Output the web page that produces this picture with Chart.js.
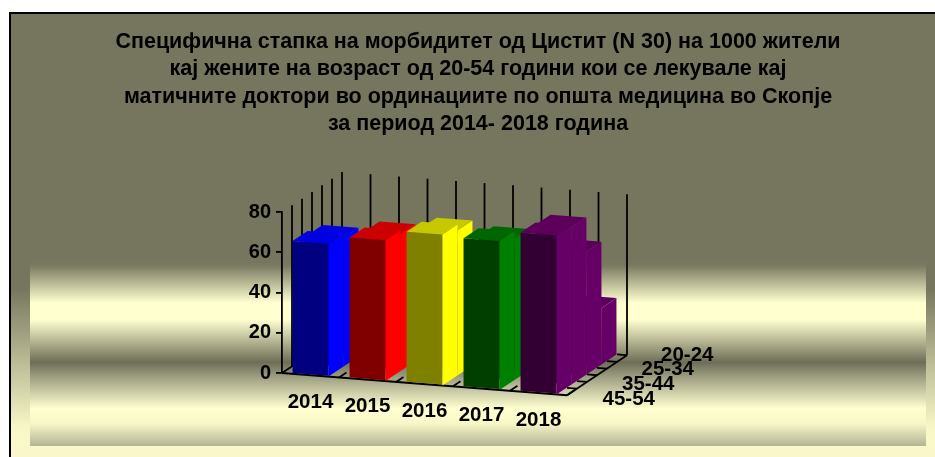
<!DOCTYPE html>
<html>
<head>
<meta charset="utf-8">
<script src="https://cdn.jsdelivr.net/npm/chart.js@4.4.1/dist/chart.umd.min.js"></script>
<style>
  html, body { margin: 0; padding: 0; background: #fff; }
  #cystitisChart { display: block; }
</style>
</head>
<body>
<canvas id="cystitisChart" width="935" height="457"></canvas>
<script>
// Data
const titleLines = [
    'Специфична стапка на морбидитет од Цистит (N 30) на 1000 жители',
    'кај жените на возраст од 20-54 години кои се лекувале кај',
    'матичните доктори во ординациите по општа медицина во Скопје',
    'за период 2014- 2018 година'
];
const years = ['2014', '2015', '2016', '2017', '2018'];
// depth series, front to back
const ageGroups = ['45-54', '35-44', '25-34', '20-24'];
const age4554 = [66, 70, 75, 74, 79];
const age3544 = [64, 68, 72, 70, 78];
const age2534 = [55, 58, 60, 58, 61];
const age2024 = [20, 22, 22, 20, 28];
const yTicks = [0, 20, 40, 60, 80];

const frontColors = ['#000080', '#800000', '#808000', '#003f00', '#330033'];
const sideColors  = ['#0000ff', '#ff0000', '#ffff00', '#008000', '#660066'];
const topColors   = ['#0000e0', '#cc0000', '#c8c800', '#006600', '#5c005c'];

const OLIVE = '#76765e';
const CREAM = '#ffffd0';
const FONT = '"Liberation Sans", Arial, sans-serif';

// fake 3D: floor slope and one series of depth
const K = 0.078, DX = 15, DY = -10;
const DEPTH = ageGroups.length;

function proj(chart, x, y, d) {
    const left = chart.chartArea.left;
    return [x + d * DX, y + K * (x - left) + d * DY];
}

function poly(ctx, pts, color) {
    ctx.beginPath();
    ctx.moveTo(pts[0][0], pts[0][1]);
    for (let i = 1; i < pts.length; i++) ctx.lineTo(pts[i][0], pts[i][1]);
    ctx.closePath();
    ctx.fillStyle = color;
    ctx.fill();
}

function line(ctx, a, b) {
    ctx.beginPath();
    ctx.moveTo(a[0], a[1]);
    ctx.lineTo(b[0], b[1]);
    ctx.stroke();
}

function drawBox(chart, i, xL, xR, yTop, yBase, d, withFront) {
    const ctx = chart.ctx;
    const P = (x, y, dd) => proj(chart, x, y, dd);
    if (withFront) {
        poly(ctx, [P(xL, yTop, d), P(xR, yTop, d), P(xR, yBase, d), P(xL, yBase, d)], frontColors[i]);
    }
    poly(ctx, [P(xR, yTop, d), P(xR, yTop, d + 1), P(xR, yBase, d + 1), P(xR, yBase, d)], sideColors[i]);
    poly(ctx, [P(xL, yTop, d), P(xR, yTop, d), P(xR, yTop, d + 1), P(xL, yTop, d + 1)], topColors[i]);
}

const backdrop = {
    id: 'backdrop',
    beforeDraw(chart) {
        const ctx = chart.ctx;
        const W = chart.width, H = chart.height;
        ctx.save();
        ctx.fillStyle = '#ffffff';
        ctx.fillRect(0, 0, W, H);

        // frame fill
        let g = ctx.createLinearGradient(0, 12, 0, H);
        g.addColorStop(0, OLIVE);
        g.addColorStop(0.62, OLIVE);
        g.addColorStop(0.93, '#f6f6c6');
        g.addColorStop(1, '#fbfacc');
        ctx.fillStyle = g;
        ctx.fillRect(10, 13, W - 10, H - 13);

        // banded plot backdrop
        const top = 260, bot = 446;
        g = ctx.createLinearGradient(0, top, 0, bot);
        g.addColorStop(0, OLIVE);
        g.addColorStop(0.03, '#7a7a62');
        g.addColorStop(0.23, CREAM);
        g.addColorStop(0.32, CREAM);
        g.addColorStop(0.55, '#6e6e58');
        g.addColorStop(0.66, '#b0b090');
        g.addColorStop(0.80, CREAM);
        g.addColorStop(0.88, '#f6f6c6');
        g.addColorStop(1, '#b4b494');
        ctx.fillStyle = g;
        ctx.fillRect(30, top, 896, bot - top);

        ctx.fillStyle = '#faf8ca';
        ctx.fillRect(10, bot, W - 10, H - bot);

        ctx.strokeStyle = '#000';
        ctx.lineWidth = 2;
        ctx.strokeRect(10, 13, W + 20, H + 20);

        // title
        ctx.fillStyle = '#000';
        ctx.font = 'bold 21.5px ' + FONT;
        ctx.textAlign = 'center';
        ctx.textBaseline = 'middle';
        titleLines.forEach((t, k) => ctx.fillText(t, 478, 42 + k * 27.3));
        ctx.restore();
    },
    beforeDatasetsDraw(chart) {
        const ctx = chart.ctx;
        const x = chart.scales.x, y = chart.scales.y;
        const area = chart.chartArea;
        const P = (px, py, d) => proj(chart, px, py, d);
        const y0 = y.getPixelForValue(0);
        const yMax = y.getPixelForValue(yTicks[yTicks.length - 1]);

        ctx.save();
        ctx.strokeStyle = '#000';
        ctx.lineWidth = 1.8;
        // side wall verticals
        for (let s = 1; s <= 6; s++) {
            const d = DEPTH * s / 6;
            line(ctx, P(area.left, y0, d), P(area.left, yMax, d));
        }
        // back wall verticals
        const step = (area.right - area.left) / years.length;
        for (let s = 1; s <= years.length * 2; s++) {
            const px = area.left + s * step / 2;
            line(ctx, P(px, y0, DEPTH), P(px, yMax, DEPTH));
        }
        // floor edges
        line(ctx, P(area.left, y0, 0), P(area.left, y0, DEPTH));
        line(ctx, P(area.left, y0, 0), P(area.right, y0, 0));
        line(ctx, P(area.right, y0, 0), P(area.right, y0, DEPTH));
        for (let s = 1; s <= years.length; s++) {
            const px = area.left + s * step;
            line(ctx, P(px, y0, 0), P(px, y0, 0.5));
        }
        for (let s = 1; s <= 6; s++) {
            const d = DEPTH * s / 6;
            line(ctx, P(area.right, y0, d), P(area.right - 10, y0, d));
        }

        // back series, from the back row forward
        const meta = chart.getDatasetMeta(0);
        const back = [age3544, age2534, age2024];
        for (let r = back.length - 1; r >= 0; r--) {
            back[r].forEach((v, i) => {
                const bar = meta.data[i];
                drawBox(chart, i, bar.x - bar.width / 2, bar.x + bar.width / 2,
                        y.getPixelForValue(v), y0, r + 1, true);
            });
        }
        ctx.restore();

        // skew the front row drawn by Chart.js onto the tilted floor
        ctx.save();
        ctx.transform(1, K, 0, 1, 0, -K * area.left);
    },
    afterDatasetsDraw(chart) {
        const ctx = chart.ctx;
        ctx.restore();
        const y = chart.scales.y;
        const y0 = y.getPixelForValue(0);
        const meta = chart.getDatasetMeta(0);
        ctx.save();
        age4554.forEach((v, i) => {
            const bar = meta.data[i];
            drawBox(chart, i, bar.x - bar.width / 2, bar.x + bar.width / 2,
                    y.getPixelForValue(v), y0, 0, false);
        });
        ctx.restore();
    },
    afterDraw(chart) {
        const ctx = chart.ctx;
        const area = chart.chartArea;
        const y0 = chart.scales.y.getPixelForValue(0);
        const meta = chart.getDatasetMeta(0);
        ctx.save();
        ctx.fillStyle = '#000';
        ctx.font = 'bold 20.5px ' + FONT;
        ctx.textBaseline = 'middle';
        ctx.textAlign = 'center';
        years.forEach((t, i) => {
            const p = proj(chart, meta.data[i].x, y0, 0);
            ctx.fillText(t, p[0], p[1] + 27);
        });
        ctx.textAlign = 'left';
        ageGroups.forEach((t, k) => {
            const p = proj(chart, area.right, y0, k + 0.5);
            ctx.fillText(t, p[0] + 28 + k * 4.5, p[1] + 9 - k * 4.7);
        });
        ctx.restore();
    }
};

new Chart(document.getElementById('cystitisChart'), {
    type: 'bar',
    data: {
        labels: years,
        datasets: [{
            label: ageGroups[0],
            data: age4554,
            backgroundColor: frontColors,
            borderWidth: 0,
            barPercentage: 0.63,
            categoryPercentage: 1
        }]
    },
    options: {
        responsive: false,
        animation: false,
        devicePixelRatio: 1,
        layout: { padding: { left: 222, right: 368, top: 212, bottom: 84 } },
        plugins: { legend: { display: false }, tooltip: { enabled: false }, title: { display: false } },
        scales: {
            x: { display: false },
            y: {
                min: 0, max: 80,
                afterFit(s) { s.width = 60; },
                afterBuildTicks(s) { s.ticks = yTicks.map(v => ({ value: v })); },
                border: { display: true, color: '#000', width: 1.8 },
                grid: { drawOnChartArea: false, drawTicks: true, tickLength: 6, color: '#000', lineWidth: 1.8 },
                ticks: { color: '#000', padding: 5, font: { family: FONT, size: 20, weight: 'bold' } }
            }
        }
    },
    plugins: [backdrop]
});
</script>
</body>
</html>
